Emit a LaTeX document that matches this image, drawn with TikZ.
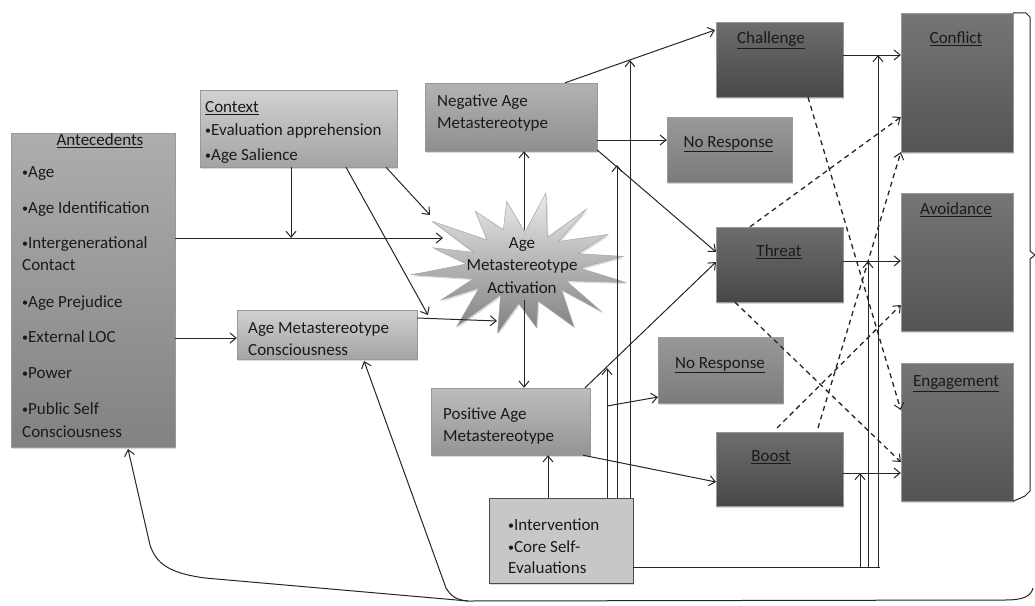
\documentclass[tikz,border=0pt]{standalone}
\usepackage{fontspec}
\setmainfont{Carlito}
\usetikzlibrary{arrows.meta,shadows}
\definecolor{lc}{HTML}{262626}
\definecolor{tc}{HTML}{1A1A1A}
\newcommand\mytxt[4]{\node[txt, anchor=base west] (#1) at (#2,#3+5.5) {#4};}
\newcommand\mytxc[4]{\node[txt, anchor=base] (#1) at (#2,#3+5.5) {#4};}
\newcommand\mybul{\raisebox{1pt}{\fontsize{12}{12}\selectfont •}}
\begin{document}
\begin{tikzpicture}[x=1pt,y=-1pt,
  txt/.style={inner sep=0pt, text=tc, font=\fontsize{17}{20}\selectfont},
  boxbase/.style={rectangle, inner sep=0pt, draw=black!40, line width=0.4pt,
    drop shadow={shadow xshift=1.3pt, shadow yshift=-1.6pt, opacity=0.3}},
  midbox/.style 2 args={boxbase, top color=#1, bottom color=#2},
  lightbox/.style={midbox={black!18}{black!36}},
  darkbox/.style={midbox={black!57}{black!72}},
  outbox/.style={midbox={black!54}{black!67}},
  arr/.style={draw=lc, line width=1pt, -{Straight Barb[length=6pt,width=10pt,line width=1pt]}},
  dsh/.style={arr, dash pattern=on 5pt off 4pt, line width=1.3pt},
  ln/.style={draw=lc, line width=1pt}]
\useasboundingbox (0,0) rectangle (1035,605);

% ---------- boxes ----------
\node[midbox={black!32}{black!49}, minimum width=164pt, minimum height=314pt] (ant) at (93,290) {};
\node[lightbox, minimum width=197pt, minimum height=77pt] (ctx) at (298.5,128.5) {};
\node[lightbox, minimum width=180pt, minimum height=49pt] (amc) at (327,334.5) {};
\node[midbox={black!30}{black!44}, minimum width=172pt, minimum height=68pt] (neg) at (511,117) {};
\node[midbox={black!26}{black!42}, minimum width=159pt, minimum height=67pt] (pos) at (510.5,421.5) {};
\node[boxbase, fill=black!22, draw=black!70, line width=0.8pt, minimum width=144pt, minimum height=85pt] (int) at (561,540.5) {};
\node[midbox={black!40}{black!52}, minimum width=125pt, minimum height=65pt] (nr1) at (729.5,149.5) {};
\node[midbox={black!40}{black!52}, minimum width=125pt, minimum height=66pt] (nr2) at (720.5,370) {};
\node[darkbox, minimum width=127pt, minimum height=75pt] (cha) at (779.5,59.5) {};
\node[darkbox, minimum width=127pt, minimum height=75pt] (thr) at (779.5,264.5) {};
\node[darkbox, minimum width=127pt, minimum height=74pt] (boo) at (779.5,469) {};
\node[outbox, minimum width=112pt, minimum height=139pt] (con) at (957,82.5) {};
\node[outbox, minimum width=112pt, minimum height=138pt] (avo) at (957,262) {};
\node[outbox, minimum width=112pt, minimum height=138pt] (eng) at (957,432) {};

% ---------- star ----------
\draw[draw=black!35, line width=0.5pt, top color=black!8, bottom color=black!50,
  drop shadow={shadow xshift=1.3pt, shadow yshift=-1.6pt, opacity=0.25}]
  plot[samples at={0,...,31}, variable=\k]
  ({522+(78+24*cos(\k*180))*(1+0.1*sin(\k*97))*cos(\k*11.25+8)},
   {266-(52+17*cos(\k*180))*(1+0.1*sin(\k*131))*sin(\k*11.25+8)}) -- cycle;
\mytxc{s1}{522}{243}{Age}
\mytxc{s2}{522}{265}{Metastereotype}
\mytxc{s3}{522}{288}{Activation}

% ---------- texts ----------
\mytxc{a0}{100}{140}{\underline{Antecedents}}
\mytxt{a1}{22}{172}{\mybul Age}
\mytxt{a2}{22}{208}{\mybul Age Identification}
\mytxt{a3}{22}{243}{\mybul Intergenerational}
\mytxt{a4}{22}{265}{Contact}
\mytxt{a5}{22}{302}{\mybul Age Prejudice}
\mytxt{a6}{22}{337}{\mybul External LOC}
\mytxt{a7}{22}{373}{\mybul Power}
\mytxt{a8}{22}{409}{\mybul Public Self}
\mytxt{a9}{22}{432}{Consciousness}

\mytxt{c0}{205}{107}{\underline{Context}}
\mytxt{c1}{205}{130}{\mybul Evaluation apprehension}
\mytxt{c2}{205}{155}{\mybul Age Salience}

\mytxt{m1}{248}{328}{Age Metastereotype}
\mytxt{m2}{248}{350}{Consciousness}

\mytxt{n1}{437}{101}{Negative Age}
\mytxt{n2}{437}{123}{Metastereotype}

\mytxt{p1}{443}{414}{Positive Age}
\mytxt{p2}{443}{436}{Metastereotype}

\mytxt{i1}{508}{525}{\mybul Intervention}
\mytxt{i2}{508}{547}{\mybul Core Self-}
\mytxt{i3}{508}{568}{Evaluations}

\mytxc{r1}{728.5}{142}{\underline{No Response}}
\mytxc{r2}{720}{363}{\underline{No Response}}
\mytxc{h1}{771}{38}{\underline{Challenge}}
\mytxc{h2}{779}{251}{\underline{Threat}}
\mytxc{h3}{771}{456}{\underline{Boost}}
\mytxc{o1}{956}{38}{\underline{Conflict}}
\mytxc{o2}{956}{209}{\underline{Avoidance}}
\mytxc{o3}{956}{381}{\underline{Engagement}}

% ---------- coordinates ----------
\coordinate (st1) at (443,238);
\coordinate (j1) at (291,238);
\coordinate (st2) at (430,215);
\coordinate (st3) at (497,321);
\coordinate (j2) at (428,315);
\coordinate (sttop) at (524,230);
\coordinate (stbot) at (524,300);
\coordinate (nr2in) at (658,397);
\coordinate (pnr) at (607,406);
\coordinate (t1) at (716,252);
\coordinate (t2) at (716,262);
\coordinate (b1) at (716,482);
\coordinate (c1) at (715,30);
\coordinate (v1) at (607,368);
\coordinate (v2) at (617,165);
\coordinate (v3) at (630,60);
\coordinate (h1e) at (880,567);
\coordinate (w1) at (860,473);
\coordinate (w2) at (868,261);
\coordinate (w3) at (878,55);
\coordinate (fb) at (1033,588);
\coordinate (fbj) at (468,601);
\coordinate (fbamc) at (364,361);
\coordinate (fbant) at (128,449);

% ---------- connectors ----------
\draw[arr] (ant.east |- 0,238) -- (st1);
\draw[arr] (ctx.south -| 291,0) -- (j1);
\draw[arr] (ctx.south -| 346,0) -- (j2);
\draw[arr] (ctx.south -| 386,0) -- (st2);
\draw[arr] (ant.east |- 0,338) -- (amc.west |- 0,338);
\draw[arr] (amc.east |- 0,318) -- (st3);
\draw[arr] (sttop) -- (neg.south -| sttop);
\draw[arr] (stbot) -- (pos.north -| stbot);
\draw[arr] (int.north -| 548,0) -- (pos.south -| 548,0);

\draw[arr] (neg.north -| 565,0) -- (c1);
\draw[arr] (neg.east |- 0,140) -- (nr1.west |- 0,140);
\draw[arr] (neg.east |- 0,150) -- (t1);
\draw[arr] (pos.north -| 585,0) -- (t2);
\draw[arr] (pnr) -- (nr2in);
\draw[arr] (pos.south -| 583,0) -- (b1);

\draw[arr] (int.north -| 607,0) -- (v1);
\draw[arr] (int.north -| 617,0) -- (v2);
\draw[arr] (int.north -| 630,0) -- (v3);
\draw[ln] (int.east |- 0,567) -- (h1e);
\draw[arr] (860,567) -- (w1);
\draw[arr] (868,567) -- (w2);
\draw[arr] (878,567) -- (w3);

\draw[arr] (cha.east |- 0,55) -- (con.west |- 0,55);
\draw[arr] (thr.east |- 0,261) -- (avo.west |- 0,261);
\draw[arr] (boo.east |- 0,473) -- (eng.west |- 0,473);

\draw[dsh] (cha.south -| 808,0) -- (eng.west |- 0,410);
\draw[dsh] (thr.south -| 735,0) -- (eng.west |- 0,462);
\draw[dsh] (thr.north -| 750,0) -- (con.west |- 0,117);
\draw[dsh] (777,428) -- (avo.west |- 0,305);
\draw[dsh] (818,428) -- (con.south west);

% brace
\draw[ln] (con.north east) -- (1026,13) -- (1030,17) -- (1030,251) -- (1035,255)
  -- (1030,259) -- (1030,491) -- (1025,496) -- (eng.south east);

% feedback
\draw[arr] (fb) .. controls (1031,596) and (1024,600) .. (1005,600) -- (fbj)
  .. controls (456,600) and (451,596) .. (446,588) -- (fbamc);
\draw[arr] (fbj) -- (205,578) .. controls (168,573) and (156,563) .. (150,545) -- (fbant);
\end{tikzpicture}
\end{document}
